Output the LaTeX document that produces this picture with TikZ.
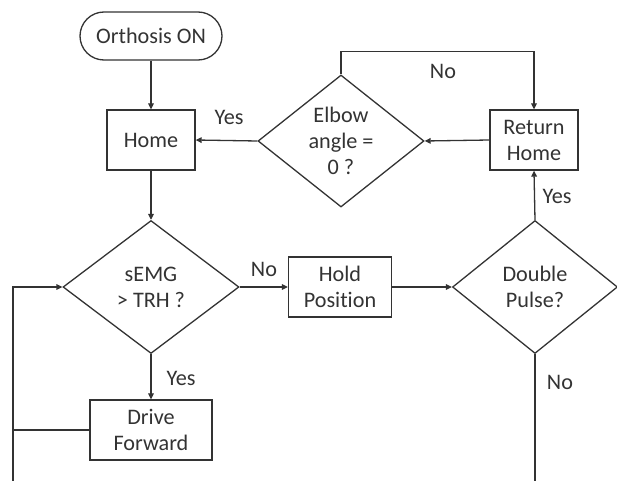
\documentclass[tikz,border=0pt]{standalone}
\usepackage{fontspec}
\setmainfont{Carlito}[Ligatures=NoCommon]
\usetikzlibrary{shapes.geometric,arrows.meta}

\begin{document}
\begin{tikzpicture}[x=0.5pt,y=-0.5pt,line width=0.65pt,color=black!80,
  every node/.style={font=\fontsize{11.1}{13}\selectfont,align=center,text=black!80},
  startbox/.style={draw,rounded corners=12pt,minimum width=71pt,minimum height=24pt},
  actbox/.style={draw,minimum height=30pt},
  askbox/.style={draw,diamond,aspect=1.3,inner sep=0pt},
  arr/.style={-{Triangle[length=3pt,width=2.8pt]}}]
\useasboundingbox (0,0) rectangle (617,481);
%start
\node[startbox] (start) at (151,36) {Orthosis ON};
%upper row
\node[actbox,minimum width=44pt] (home) at (151,140) {Home};
\node[askbox,minimum width=83pt,minimum height=66pt] (elbow) at (341,141) {Elbow\\angle =\\0 ?};
\node[actbox,minimum width=44pt] (ret) at (534,140) {Return\\Home};
%middle row
\node[askbox,minimum width=88pt,minimum height=66.5pt] (semg) at (151,287) {sEMG\\> TRH ?};
\node[actbox,minimum width=51.5pt] (hold) at (340,287) {Hold\\Position};
\node[askbox,minimum width=82.5pt,minimum height=66.5pt] (dp) at (535,287) {Double\\Pulse?};
%bottom row
\node[actbox,minimum width=61pt] (drive) at (151,430) {Drive\\Forward};
\coordinate (loopend) at (13,481);
\coordinate (dpend) at (535,481);

%connectors
\draw[arr] (start)--(home);
\draw[arr] (home)--(semg);
\draw[arr] (elbow.west)--(home.east);
\draw[arr] (ret.west)--(elbow.east);
\draw[arr] (elbow.north)--++(0,-23) -| (ret.north);
\draw[arr] (semg.east)--(hold.west);
\draw[arr] (hold.east)--(dp.west);
\draw[arr] (dp.north)--(ret.south);
\draw[arr] (semg.south)--(drive.north);
\draw (dp.south)--(dpend);
\draw[arr] (loopend) |- (semg.west);
\draw (drive.west)--(drive.west -| loopend);

%labels
\node (yes1) at (229,117) {Yes};
\node (no1) at (443,71) {No};
\node (yes2) at (557,196) {Yes};
\node (no2) at (264,269) {No};
\node (yes3) at (181,378) {Yes};
\node (no3) at (560,382) {No};
\end{tikzpicture}
\end{document}
